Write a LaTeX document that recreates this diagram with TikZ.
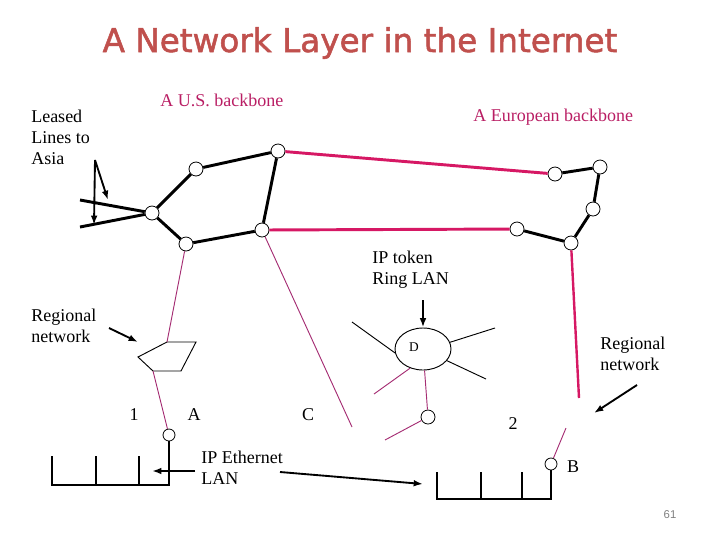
\documentclass[tikz,border=0pt]{standalone}
\usepackage{fontspec}
\setmainfont{Liberation Serif}
\newfontfamily\titlefont[FakeBold=1.6]{DejaVu Sans}
\newfontfamily\pagefont{Liberation Sans}
\usetikzlibrary{arrows.meta,shapes.geometric}
\definecolor{titlered}{RGB}{192,80,77}
\definecolor{bbmag}{RGB}{214,24,100}
\definecolor{thinmag}{RGB}{165,45,115}
\definecolor{lblmag}{RGB}{185,30,100}
\definecolor{pagegray}{RGB}{128,128,128}
\begin{document}
\begin{tikzpicture}[x=0.75pt,y=-0.75pt,
  router/.style={circle,draw=black,fill=white,minimum size=10.5pt,inner sep=0pt,line width=0.6pt},
  smallrouter/.style={circle,draw=black,fill=white,minimum size=9pt,inner sep=0pt,line width=0.6pt},
  bb/.style={line width=2.2pt,black},
  magbb/.style={line width=2.2pt,bbmag},
  thinlink/.style={line width=0.7pt,thinmag},
  thinblack/.style={line width=0.7pt,black},
  lanline/.style={line width=0.8pt,black},
  pointer/.style={line width=1.4pt,-{Latex[length=7pt,width=5pt]}},
  lbl/.style={font=\fontsize{13.5}{15.75}\selectfont,align=left,inner sep=0pt},
]
\useasboundingbox (0,0) rectangle (720,540);

% title
\node[text=titlered,inner sep=0pt] (title) at (360,43)
  {\resizebox{386pt}{!}{\titlefont\fontsize{24}{28}\selectfont A Network Layer in the Internet}};

% labels
\node[lbl,anchor=west] (leased) at (31,137) {Leased\\Lines to\\Asia};
\node[lbl,anchor=west,text=lblmag] (usbb) at (160,100) {A U.S. backbone};
\node[lbl,anchor=west,text=lblmag] (eubb) at (473,117) {A European backbone};
\node[lbl,anchor=west] (token) at (372,270) {IP token\\Ring LAN};
\node[lbl,anchor=west] (reg1) at (31,326) {Regional\\network};
\node[lbl,anchor=west] (reg2) at (600,354) {Regional\\network};
\node[lbl,anchor=west] (ether) at (201,468) {IP Ethernet\\LAN};
\node[lbl] (n1) at (134,415) {1};
\node[lbl] (nA) at (194,415) {A};
\node[lbl] (nC) at (308,415) {C};
\node[lbl] (n2) at (513,424) {2};
\node[lbl] (nB) at (573,467) {B};
\node[font=\pagefont\fontsize{8.5}{10}\selectfont,text=pagegray,inner sep=0pt] (page) at (670,515) {61};

% US backbone routers
\node[router] (u1) at (196,169) {};
\node[router] (u2) at (278,151) {};
\node[router] (u3) at (152,213) {};
\node[router] (u4) at (186,244) {};
\node[router] (u5) at (262,230) {};
% European backbone routers
\node[router] (e1) at (555,174) {};
\node[router] (e2) at (600,167) {};
\node[router] (e3) at (593,209) {};
\node[router] (e4) at (517,229) {};
\node[router] (e5) at (571,243) {};

\draw[bb] (u3) -- (u1) (u1) -- (u2) (u2) -- (u5) (u3) -- (u4) (u4) -- (u5);
\draw[bb] (e1) -- (e2) (e2) -- (e3) (e3) -- (e5) (e5) -- (e4);
\draw[magbb] (u2) -- (e1);
\draw[magbb] (u5) -- (e4);

% leased lines
\coordinate (l1) at (80,200);
\coordinate (l2) at (80,227);
\draw[bb] (l1) -- (u3) (l2) -- (u3);
\coordinate (la) at (95,160);
\coordinate (lb) at (94,225);
\coordinate (lc) at (108,200);
\draw[pointer] (la) -- (lb);
\draw[pointer] (la) -- (lc);

% regional network 1 (pentagon)
\coordinate (p1) at (138,357);
\coordinate (p2) at (167,342);
\coordinate (p3) at (196,342);
\coordinate (p4) at (181,371);
\coordinate (p5) at (153,371);
\draw[line width=0.7pt] (p1) -- (p2) -- (p3) -- (p4) -- (p5) -- cycle;
\draw[thinlink] (u4) -- (p2);
\node[smallrouter] (rA) at (169,435) {};
\draw[thinlink] (p5) -- (rA);
\coordinate (r1a) at (109,328);
\coordinate (r1b) at (138,342);
\draw[pointer] (r1a) -- (r1b);

% Ethernet LAN 1
\coordinate (lanA) at (169,485);
\coordinate (lanA0) at (52,485);
\coordinate (lanA0t) at (52,456);
\coordinate (lanA1) at (96,485);
\coordinate (lanA1t) at (96,456);
\coordinate (lanA2) at (139,485);
\coordinate (lanA2t) at (139,456);
\draw[lanline] (rA) -- (lanA) -- (lanA0) -- (lanA0t);
\draw[lanline] (lanA1) -- (lanA1t) (lanA2) -- (lanA2t);
\coordinate (ea) at (195,471);
\coordinate (eb) at (152,471);
\draw[pointer] (ea) -- (eb);
\coordinate (ec) at (280,472);
\coordinate (ed) at (423,484);
\draw[pointer] (ec) -- (ed);

% link to C
\coordinate (cend) at (352,427);
\draw[thinlink] (u5) -- (cend);

% token ring D
\node[ellipse,draw=black,line width=0.7pt,minimum width=42pt,minimum height=31.5pt,inner sep=0pt] (ring) at (423,349) {};
\node[font=\fontsize{10}{12}\selectfont,inner sep=0pt] (dlbl) at (414,347) {D};
\coordinate (t1) at (352,322);
\coordinate (t2) at (495,328);
\coordinate (t3) at (486,379);
\coordinate (t4) at (374,394);
\draw[thinblack] (t1) -- (ring.188);
\draw[thinblack] (t2) -- (ring.14);
\draw[thinblack] (t3) -- (ring.334);
\draw[thinlink] (t4) -- (ring.236);
\coordinate (ta) at (423,300);
\draw[pointer] (ta) -- (ring.north);
\node[router] (rD) at (428,417) {};
\draw[thinlink] (ring) -- (rD);
\coordinate (dend) at (385,440);
\draw[thinlink] (rD) -- (dend);

% regional network 2
\coordinate (r2end) at (579,398);
\draw[line width=1.8pt,bbmag] (e5) -- (r2end);
\coordinate (r2a) at (637,385);
\coordinate (r2b) at (594,413);
\draw[pointer] (r2a) -- (r2b);

% router B and Ethernet LAN 2
\node[smallrouter] (rB) at (551,464) {};
\coordinate (bup) at (566,428);
\draw[thinlink] (rB) -- (bup);
\coordinate (lanB) at (551,499);
\coordinate (lanB0) at (437,499);
\coordinate (lanB0t) at (437,472);
\coordinate (lanB1) at (481,499);
\coordinate (lanB1t) at (481,472);
\coordinate (lanB2) at (522,499);
\coordinate (lanB2t) at (522,472);
\draw[lanline] (rB) -- (lanB) -- (lanB0) -- (lanB0t);
\draw[lanline] (lanB1) -- (lanB1t) (lanB2) -- (lanB2t);
\end{tikzpicture}
\end{document}
